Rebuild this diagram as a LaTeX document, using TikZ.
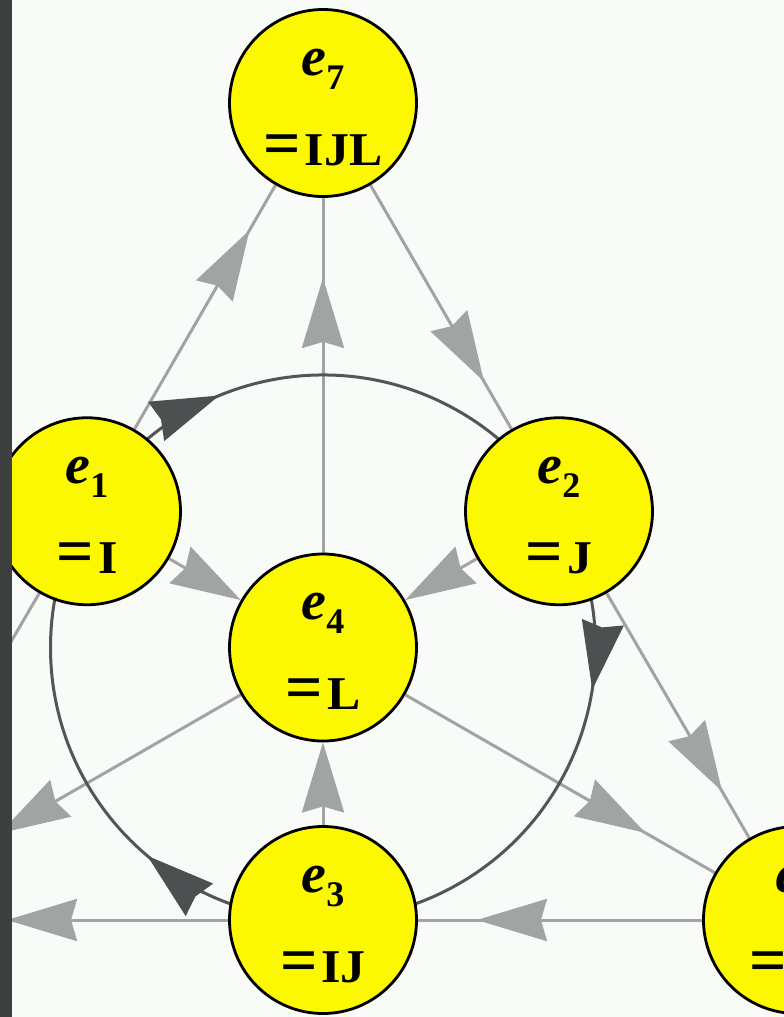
\documentclass[tikz,border=0pt]{standalone}
\usepackage{fontspec}
\newfontfamily\labfont{Liberation Serif}
\usetikzlibrary{arrows.meta,decorations.markings}
\definecolor{bgc}{HTML}{F8FBF7}
\definecolor{stripc}{HTML}{3E3F3F}
\definecolor{nodey}{HTML}{FCF802}
\definecolor{glc}{HTML}{A2A4A3}
\definecolor{dlc}{HTML}{535656}
\definecolor{dac}{HTML}{4C5050}
\pgfdeclarelayer{bglayer}
\pgfdeclarelayer{edgelayer}
\pgfdeclarelayer{fglayer}
\pgfsetlayers{bglayer,edgelayer,main,fglayer}
\newcommand\elab[1]{{\labfont\bfseries\itshape\fontsize{56}{56}\selectfont e}\raisebox{-14pt}{\labfont\bfseries\fontsize{36}{36}\selectfont #1}}
\newcommand\rlab[1]{{\labfont\bfseries\fontsize{47}{47}\selectfont\scalebox{1.4}[1.4]{=}\hspace{4pt}\scalebox{1.06}[1]{#1}}}
\newcommand\vlab[2]{\makebox[0pt][c]{\raisebox{28pt}{\elab{#1}}}\makebox[0pt][c]{\raisebox{-62pt}{\rlab{#2}}}}
\tikzset{
  vtx/.style={circle, draw=black, line width=2.8pt, fill=nodey, minimum size=187pt, inner sep=0pt, text height=0pt, text depth=0pt},
  gline/.style={draw=glc, line width=3pt},
  garr/.style={postaction={decorate, decoration={markings, mark=at position #1 with {\arrow{Stealth[length=70pt,width=42pt,inset=6pt,color=glc]}}}}},
  gend/.style={gline, -{Stealth[length=70pt,width=42pt,inset=6pt]}},
  carc/.style={draw=dlc, line width=3pt},
  cmk/.style={postaction={decorate, decoration={markings, mark=at position #1 with {\arrow{Stealth[length=68pt,width=42pt,inset=5pt,color=dac]}}}}}
}
\begin{document}
\begin{tikzpicture}[x=1pt,y=-1pt]
\useasboundingbox (0,0) rectangle (784,1017);
\begin{pgfonlayer}{bglayer}
\fill[bgc] (0,0) rectangle (784,1017);
\end{pgfonlayer}
\clip (0,0) rectangle (784,1017);
\node[vtx] (e7) at (323,103) {\vlab{7}{IJL}};
\node[vtx] (e1) at (87,511.25) {\vlab{1}{I}};
\node[vtx] (e2) at (559,511.25) {\vlab{2}{J}};
\node[vtx] (e4) at (323,647.5) {\vlab{4}{L}};
\node[vtx] (e3) at (323,920) {\vlab{3}{IJ}};
\node[vtx] (e5) at (797,920) {\vlab{5}{IL}};
\coordinate (e6) at (-151,920);
\begin{pgfonlayer}{edgelayer}
\clip (0,0) rectangle (784,1017);
\draw[gline, garr=-52pt] (e1) -- (e7);
\draw[gline, garr=-80pt] (e4) -- (e7);
\draw[gline, garr=-55pt] (e7) -- (e2);
\draw[gline, garr=-54pt] (e2) -- (e5);
\draw[gline, garr=-80pt] (e4) -- (e5);
\draw[gline, garr=-59pt] (e5) -- (e3);
\draw[gline, garr=-158pt] (e3) -- (e6);
\draw[gline, garr=-174pt] (e4) -- (e6);
\draw[gline, garr=-58pt] (e6) -- (e1);
\draw[gend] (e1) -- (e4);
\draw[gend] (e2) -- (e4);
\draw[gend] (e3) -- (e4);
\draw[carc, cmk=179pt] (e1.center) arc[start angle=210, end angle=330, radius=272.5];
\draw[carc, cmk=185pt] (e2.center) arc[start angle=330, end angle=450, radius=272.5];
\draw[carc, cmk=191pt] (e3.center) arc[start angle=90, end angle=210, radius=272.5];
\end{pgfonlayer}
\begin{pgfonlayer}{fglayer}
\fill[stripc] (0,0) rectangle (12,1017);
\end{pgfonlayer}
\end{tikzpicture}
\end{document}
